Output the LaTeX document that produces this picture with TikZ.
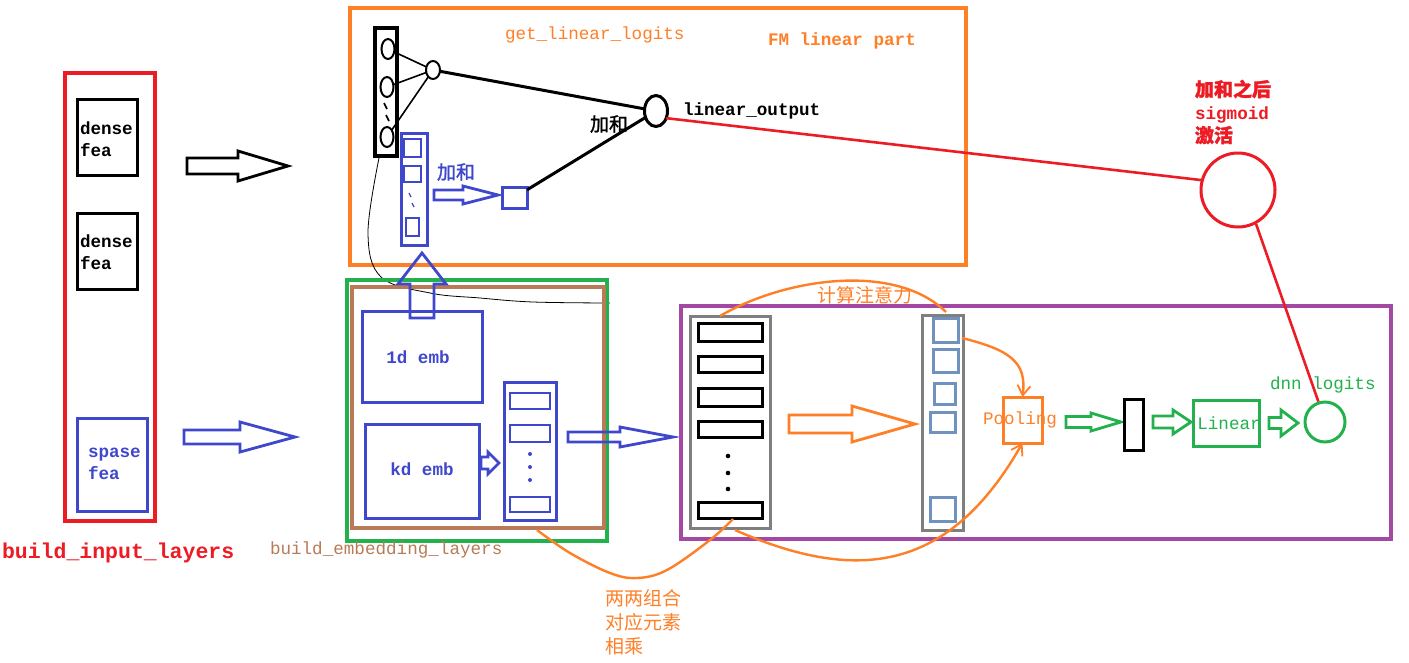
\documentclass[tikz,border=0pt]{standalone}
\usepackage{fontspec}
\setmainfont{Liberation Mono}
\newfontfamily\cjk{Noto Sans CJK SC}
\newfontfamily\cjkb[FakeBold=1.5]{Noto Sans CJK SC}
\usetikzlibrary{arrows.meta,shapes.geometric}
\definecolor{cred}{HTML}{ED1C24}
\definecolor{corange}{HTML}{FF7F27}
\definecolor{cblue}{HTML}{3F48CC}
\definecolor{cgreen}{HTML}{22B14C}
\definecolor{cbrown}{HTML}{B97A57}
\definecolor{cpurple}{HTML}{A349A4}
\definecolor{cgray}{HTML}{7F7F7F}
\definecolor{csteel}{HTML}{7092BE}
\tikzset{
  box/.style={draw, rectangle, inner sep=0, outer sep=0, line width=3pt},
  sbox/.style={draw, rectangle, inner sep=0, outer sep=0, line width=2.6pt},
  txt/.style={inner sep=0, outer sep=0, anchor=west, align=left},
  mono/.style={font=\fontsize{17.6}{22}\selectfont},
  monob/.style={font=\fontsize{17.6}{22}\selectfont\bfseries},
  cjkt/.style={font=\fontsize{19}{24}\selectfont\cjk},
  cjktb/.style={font=\fontsize{19}{24}\selectfont\cjkb},
  oval/.style={draw, ellipse, inner sep=0, outer sep=0},
  harrow/.style={line width=2.8pt, line join=miter},
  tip/.style={-{Straight Barb[length=10pt,width=13pt,line width=1.8pt]}},
}
% box by corners: [style]{name}{x1}{y1}{x2}{y2}
\newcommand\bx[6][]{\node[box,#1,minimum width={(#5-#3)*1pt},minimum height={(#6-#4)*1pt}] (#2) at ({(#3+#5)/2},{(#4+#6)/2}) {};}
% hollow arrow: {style}{x1}{x2}{y}{shaft half}{head half}{head x}
\newcommand\harr[7]{\draw[harrow,#1] (#2,{#4-#5}) -- (#7,{#4-#5}) -- (#7,{#4-#6}) -- (#3,#4) -- (#7,{#4+#6}) -- (#7,{#4+#5}) -- (#2,{#4+#5}) -- cycle;}
\begin{document}
\begin{tikzpicture}[x=1pt,y=-1pt]
\fill[white] (0,0) rectangle (1409,662);
\useasboundingbox (0,0) rectangle (1409,662);

% ---------------- input layers ----------------
\bx[cred,line width=3.4pt]{inbox}{65}{73}{155}{521}
\bx[black]{dense1}{77}{99}{137}{175}
\node[txt,monob] (dense1t) at (80,139) {dense\\fea};
\bx[black]{dense2}{77}{213}{137}{289}
\node[txt,monob] (dense2t) at (80,252) {dense\\fea};
\bx[cblue]{spase}{77}{418}{147}{511}
\node[txt,monob,text=cblue] (spaset) at (88,464) {spase\\fea};
\node[txt,font=\fontsize{21.5}{26}\selectfont\bfseries,text=cred] (inlbl) at (2,553) {build\_input\_layers};

\harr{black}{187}{288}{166}{8}{15}{238}
\harr{cblue}{184}{295}{437}{7}{15}{240}

% ---------------- FM linear part ----------------
\bx[corange,line width=3.4pt]{fmbox}{350}{8}{966}{265}
\node[txt,mono,text=corange] (glltxt) at (505,35) {get\_linear\_logits};
\node[txt,monob,text=corange] (fmtxt) at (768,41) {FM linear part};

\bx[black,line width=3.4pt]{bstack}{375}{28}{397}{156}
\node[oval,line width=2pt,minimum width=13pt,minimum height=20pt] (c1) at (388,49) {};
\node[oval,line width=2pt,minimum width=13pt,minimum height=20pt] (c2) at (387,87) {};
\node[oval,line width=2pt,minimum width=13pt,minimum height=20pt] (c3) at (387,137) {};
\draw[line width=1.6pt] (384,103) -- (387,109) (386,115) -- (389,121);
\node[oval,line width=2pt,minimum width=14pt,minimum height=18pt] (h) at (433,70) {};
\draw[line width=1.6pt] (c1) -- (h);
\draw[line width=1.6pt] (c2) -- (h);
\draw[line width=1.6pt] (c3) -- (h);
\node[oval,line width=3pt,minimum width=23pt,minimum height=31pt] (lo) at (656,111) {};
\draw[line width=3pt] (h) -- (lo);
\node[txt,monob] (lotxt) at (683,111) {linear\_output};
\node[txt,cjktb] (sum1) at (590,124) {加和};

\bx[cblue]{fstack}{401}{133}{427}{245}
\bx[sbox,cblue]{fs1}{404}{139}{421}{157}
\bx[sbox,cblue]{fs2}{404}{166}{421}{182}
\bx[sbox,cblue]{fs3}{406}{218}{419}{236}
\draw[cblue,line width=1.2pt] (409,193) -- (411,197) (412,203) -- (414,207);
\node[txt,cjktb,text=cblue] (sum2) at (437,172) {加和};
\harr{cblue}{434}{498}{195}{5}{9}{463}
\bx[cblue]{sq}{502}{187}{527}{208}
\draw[line width=3pt] (sq) -- (lo);

% sigmoid
\node[draw=cred,circle,line width=3pt,minimum size=74pt,inner sep=0] (sig) at (1238,190) {};
\node[txt,text=cred,font=\fontsize{17.6}{23}\selectfont\bfseries] (sigtxt) at (1195,112)
  {{\fontsize{19}{23}\selectfont\cjkb 加和之后}\\sigmoid\\{\fontsize{19}{23}\selectfont\cjkb 激活}};
\draw[cred,line width=2.6pt] (lo.-35) -- (sig.165);

% thin curve
\draw[black,line width=0.8pt] plot[smooth,tension=0.6] coordinates {(379,158) (368,233) (381,277) (430,293) (480,298) (533,302) (610,303)};

% ---------------- embedding layers ----------------
\bx[cgreen,line width=3.4pt]{embgreen}{347}{280}{607}{541}
\bx[cbrown,line width=3.4pt]{embbrown}{352}{287}{604}{528}
\node[txt,mono,text=cbrown] (emblbl) at (270,550) {build\_embedding\_layers};
\draw[harrow,cblue] (410,318) -- (410,284) -- (398,284) -- (422,253) -- (446,284) -- (434,284) -- (434,318) -- cycle;
\bx[cblue]{oned}{362}{311}{482}{402}
\node[monob,text=cblue,inner sep=0] (onedt) at (418,357) {1d emb};
\bx[cblue]{kd}{365}{424}{479}{518}
\node[monob,text=cblue,inner sep=0] (kdt) at (422,469) {kd emb};
\harr{cblue}{481}{499}{463}{6}{11}{488}
\bx[cblue]{estack}{504}{382}{556}{520}
\bx[sbox,cblue]{es1}{510}{393}{550}{409}
\bx[sbox,cblue]{es2}{510}{425}{550}{442}
\bx[sbox,cblue]{es3}{510}{497}{550}{512}
\fill[cblue] (530,454) circle (2) (530,467) circle (2) (530,480) circle (2);
\harr{cblue}{568}{673}{437}{5}{10}{620}

% ---------------- attention part ----------------
\bx[cpurple,line width=3.4pt]{attbox}{681}{306}{1391}{539}
\bx[cgray]{lgray}{690}{316}{770}{528}
\bx[black]{r1}{698}{323}{762}{341}
\bx[black]{r2}{698}{356}{762}{372}
\bx[black]{r3}{698}{388}{762}{406}
\bx[black]{r4}{698}{421}{762}{437}
\bx[black]{r5}{698}{502}{762}{518}
\fill[black] (728,456) circle (2.3) (728,473) circle (2.3) (728,489) circle (2.3);
\harr{corange}{789}{915}{424}{9}{18}{852}
\bx[cgray]{rgray}{922}{315}{963}{530}
\bx[csteel]{s1}{933}{318}{958}{342}
\bx[csteel]{s2}{933}{349}{958}{372}
\bx[csteel]{s3}{934}{383}{955}{404}
\bx[csteel]{s4}{930}{412}{955}{432}
\bx[csteel]{s5}{930}{497}{955}{521}
\node[cjkt,text=corange,inner sep=0] (atttxt) at (865,295) {计算注意力};
\bx[corange]{pool}{1003}{397}{1042}{443}
\node[mono,text=corange,inner sep=0] (pooltxt) at (1020,420) {Pooling};
\harr{cgreen}{1066}{1121}{422}{5.5}{9}{1091}
\bx[black]{vec}{1124}{399}{1143}{450}
\harr{cgreen}{1153}{1191}{422}{6}{12}{1173}
\bx[cgreen]{lin}{1193}{400}{1259}{446}
\node[mono,text=cgreen,inner sep=0] (lintxt) at (1229,423) {Linear};
\harr{cgreen}{1269}{1298}{423}{5.5}{13}{1281}
\node[draw=cgreen,circle,line width=3pt,minimum size=40pt,inner sep=0] (dnn) at (1325,422) {};
\node[txt,mono,text=cgreen] (dnntxt) at (1270,385) {dnn logits};
\draw[cred,line width=2.6pt] (sig.-62) -- (dnn.108);

% orange curves
\draw[corange,line width=2.4pt] (720,316) .. controls (785,278) and (895,262) .. (946,312);
\draw[corange,line width=2.4pt,tip] (962,338) .. controls (1010,350) and (1027,362) .. (pool.north);
\draw[corange,line width=2.4pt,tip] (735,530) .. controls (860,585) and (950,570) .. (pool.south);
\draw[corange,line width=2.4pt] plot[smooth,tension=0.6] coordinates {(537,530) (570,553) (610,573) (637,578) (667,570) (710,540) (733,519)};
\node[txt,cjkt,text=corange,font=\fontsize{19}{24}\selectfont\cjk] (multxt) at (605,622) {两两组合\\对应元素\\相乘};
\end{tikzpicture}
\end{document}
